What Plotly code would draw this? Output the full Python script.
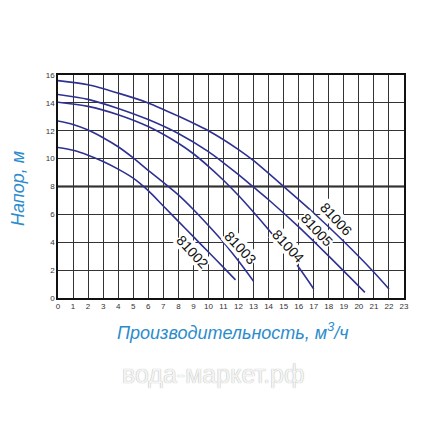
import plotly.graph_objects as go

# Pump curves: flow (m3/h) vs head (m)
models = ['81002', '81003', '81004', '81005', '81006']

q_81002 = [0, 1, 2, 3, 4, 5, 6, 7, 8, 9, 10, 11, 11.8]
h_81002 = [10.8, 10.6, 10.25, 9.8, 9.25, 8.6, 7.7, 6.6, 5.5, 4.4, 3.3, 2.2, 1.3]

q_81003 = [0, 1, 2, 3, 4, 5, 6, 7, 8, 9, 10, 11, 12, 13]
h_81003 = [12.7, 12.45, 12.05, 11.5, 10.85, 10.05, 9.15, 8.3, 7.4, 6.35, 5.2, 4.0, 2.65, 1.2]

q_81004 = [0, 2, 4, 6, 8, 9, 10, 11, 12, 13, 14, 15, 16, 17]
h_81004 = [14.05, 13.75, 13.15, 12.3, 11.1, 10.35, 9.45, 8.45, 7.35, 6.15, 4.9, 3.6, 2.2, 0.65]

q_81005 = [0, 2, 4, 6, 8, 10, 11, 12, 13, 14, 16, 18, 20.4]
h_81005 = [14.6, 14.25, 13.6, 12.8, 11.8, 10.5, 9.7, 8.85, 7.95, 7.05, 5.1, 3.0, 0.4]

q_81006 = [0, 2, 4, 6, 8, 10, 12, 13, 15, 17, 19, 21, 22]
h_81006 = [15.6, 15.3, 14.7, 14.0, 13.05, 12.0, 10.65, 9.85, 8.0, 6.1, 4.05, 1.85, 0.65]

# where each model name sits along its curve
label_q = [8.95, 12.15, 15.3, 17.2, 18.5]
label_h = [3.3, 3.6, 3.75, 4.85, 5.7]

x_ticks = list(range(0, 24))
y_ticks = list(range(0, 17, 2))

CURVE_COLOR = '#2e3192'
GRID_COLOR = '#333333'
TITLE_BLUE = '#2b8ccd'

curves = [(q_81002, h_81002), (q_81003, h_81003), (q_81004, h_81004),
          (q_81005, h_81005), (q_81006, h_81006)]

fig = go.Figure()

for name, (q, h) in zip(models, curves):
    fig.add_trace(go.Scatter(
        x=q, y=h, mode='lines', name=name,
        line=dict(color=CURVE_COLOR, width=1.6, shape='spline', smoothing=0.8),
        hoverinfo='x+y+name'
    ))

# thick line at 8 m
fig.add_shape(type='line', xref='x', yref='y', x0=0, x1=23, y0=8, y1=8,
              line=dict(color='#111111', width=2), layer='below')

for name, xq, yh in zip(models, label_q, label_h):
    fig.add_annotation(
        x=xq, y=yh, text=name, showarrow=False, textangle=47,
        font=dict(family='Liberation Sans', size=14, color='#111111'),
        bgcolor='white', borderpad=0
    )

# axis titles
fig.add_annotation(
    x=0.506, y=-0.152, xref='paper', yref='paper', showarrow=False,
    xanchor='center', yanchor='middle',
    text='<i>Производительность, м<sup>3</sup>/ч</i>',
    font=dict(family='Liberation Sans', size=18, color=TITLE_BLUE)
)
fig.add_annotation(
    x=-0.115, y=0.49, xref='paper', yref='paper', showarrow=False,
    xanchor='center', yanchor='middle',
    text='<i>Напор, м</i>', textangle=-90,
    font=dict(family='Liberation Sans', size=18, color=TITLE_BLUE)
)

# watermark
fig.add_annotation(
    x=0.45, y=-0.34, xref='paper', yref='paper', showarrow=False,
    xanchor='center', yanchor='middle',
    text='вода-маркет.рф',
    font=dict(family='Liberation Sans', size=25, color='#f4f4f4',
              shadow='0px 0px 1px #9a9a9a')
)

fig.update_xaxes(
    range=[0, 23], tickvals=x_ticks, ticktext=[str(v) for v in x_ticks],
    showgrid=True, gridcolor=GRID_COLOR, gridwidth=1,
    showline=True, linecolor='#111111', linewidth=1.5, mirror=True,
    zeroline=False, ticks='', ticklen=0,
    tickfont=dict(family='Liberation Sans', size=8, color='#333333')
)
fig.update_yaxes(
    range=[0, 16], tickvals=y_ticks, ticktext=[str(v) for v in y_ticks],
    showgrid=True, gridcolor=GRID_COLOR, gridwidth=1,
    showline=True, linecolor='#111111', linewidth=1.5, mirror=True,
    zeroline=False, ticks='', ticklen=0,
    tickfont=dict(family='Liberation Sans', size=8, color='#333333')
)

# page body has an 8px margin, so the plot box is shifted to compensate
fig.update_layout(
    width=427, height=430,
    margin=dict(l=50, r=31, t=67, b=140),
    paper_bgcolor='white', plot_bgcolor='white',
    showlegend=False,
)

fig.write_html('out.html')
